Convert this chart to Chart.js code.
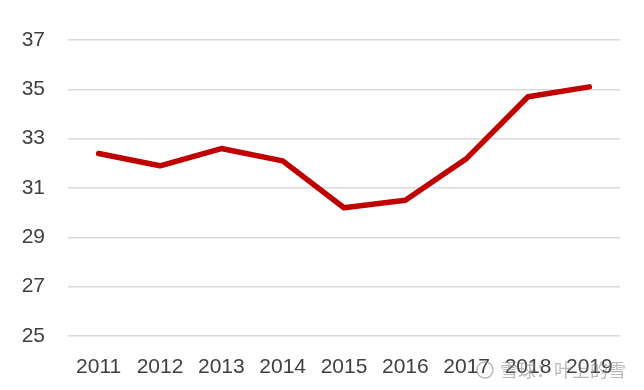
<!DOCTYPE html>
<html><head><meta charset="utf-8">
<script src="https://cdn.jsdelivr.net/npm/chart.js@4"></script>
<style>html,body{margin:0;padding:0;background:#fff}#w{width:644px;height:390px;position:relative}</style>
</head><body><div id="w"><canvas id="c" width="644" height="390"></canvas></div>
<script>
const years = ['2011','2012','2013','2014','2015','2016','2017','2018','2019'];
const values = [32.4, 31.9, 32.6, 32.1, 30.2, 30.5, 32.2, 34.7, 35.1];
const yTicks = [25, 27, 29, 31, 33, 35, 37];
const watermark = '雪球：叶上的雪';

const wm = {
  id: 'wm',
  afterDraw(chart) {
    const ctx = chart.ctx;
    ctx.save();
    ctx.fillStyle = 'rgba(140,140,140,0.6)';
    ctx.strokeStyle = 'rgba(140,140,140,0.6)';
    ctx.lineWidth = 1.5;
    ctx.beginPath(); ctx.arc(485, 370, 8, 0, Math.PI*2); ctx.stroke();
    ctx.font = '18px "Noto Sans CJK SC"';
    ctx.textBaseline = 'middle';
    ctx.fillText(watermark, 500, 370);
    ctx.restore();
  }
};

new Chart(document.getElementById('c'), {
  type: 'line',
  data: { labels: years, datasets: [{ data: values, borderColor: '#C00000', borderWidth: 5.5, pointRadius: 0, tension: 0, fill: false, borderCapStyle: 'round', borderJoinStyle: 'round' }] },
  options: {
    responsive: false, animation: false,
    layout: { padding: { left: 0, right: 24, top: 40, bottom: 0 } },
    plugins: { legend: { display: false }, tooltip: { enabled: false } },
    scales: {
      x: {
        offset: true,
        grid: { display: false, drawTicks: false },
        border: { display: false },
        ticks: { color: '#404040', font: { family: 'Liberation Sans', size: 21 }, padding: 19, maxRotation: 0, autoSkip: false },
        afterFit(s) { s.height = 54; }
      },
      y: {
        min: 25, max: 37,
        afterBuildTicks(s) { s.ticks = yTicks.map(v => ({ value: v })); },
        grid: { color: '#D9D9D9', lineWidth: 1.5, drawTicks: false },
        border: { display: false },
        ticks: { color: '#404040', font: { family: 'Liberation Sans', size: 21 }, padding: 23 },
        afterFit(s) { s.width = 68; }
      }
    }
  },
  plugins: [wm]
});
</script></body></html>
